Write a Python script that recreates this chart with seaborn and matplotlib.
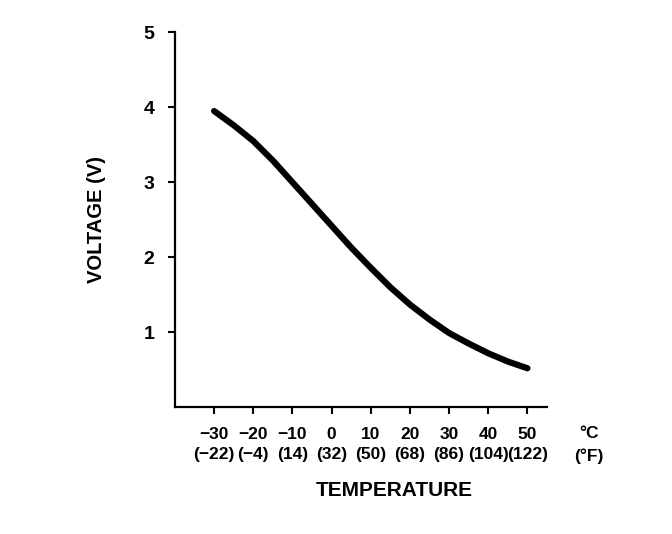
import matplotlib
matplotlib.use("Agg")
import matplotlib.pyplot as plt
import seaborn as sns
import pandas as pd

# values (every 5 degC)
temp_c = [-30, -25, -20, -15, -10, -5, 0, 5, 10, 15, 20, 25, 30, 35, 40, 45, 50]
voltage = [3.95, 3.76, 3.55, 3.29, 3.00, 2.71, 2.42, 2.13, 1.86, 1.60, 1.37,
           1.17, 0.99, 0.85, 0.72, 0.61, 0.52]

tick_c = [-30, -20, -10, 0, 10, 20, 30, 40, 50]
tick_labels = ["\u221230\n(\u221222)", "\u221220\n(\u22124)", "\u221210\n(14)", "0\n(32)",
               "10\n(50)", "20\n(68)", "30\n(86)", "40\n(104)", "50\n(122)"]
y_ticks = [1, 2, 3, 4, 5]

df = pd.DataFrame({"temp": temp_c, "volt": voltage})

sns.set_style("ticks")
plt.rcParams["font.family"] = ["Liberation Sans", "DejaVu Sans"]
plt.rcParams["font.weight"] = "bold"
plt.rcParams["text.color"] = "black"
plt.rcParams["axes.labelcolor"] = "black"

fig = plt.figure(figsize=(6.72, 5.34), dpi=100)
ax = fig.add_axes([0.2604, 0.2373, 0.5536, 0.7022])

sns.lineplot(data=df, x="temp", y="volt", ax=ax, color="black", linewidth=4.5,
             solid_capstyle="round", solid_joinstyle="round")

ax.set_xlim(-40, 55)
ax.set_ylim(0, 5)
ax.set_xticks(tick_c)
ax.set_xticklabels(tick_labels, fontsize=12.5, fontweight="bold", linespacing=1.4)
ax.set_yticks(y_ticks)
ax.set_yticklabels([str(v) for v in y_ticks], fontsize=14, fontweight="bold")
ax.tick_params(axis="both", direction="out", length=5, width=1.5, colors="black")
ax.tick_params(axis="y", pad=10)
ax.tick_params(axis="x", pad=9)

sns.despine(ax=ax)
for side in ["left", "bottom"]:
    ax.spines[side].set_linewidth(1.6)
    ax.spines[side].set_color("black")

ax.set_xlabel("")
ax.set_ylabel("VOLTAGE (V)", fontsize=14.5, fontweight="bold", labelpad=27)

fig.text(589 / 672, 1 - 434 / 534, "\u00b0C", fontsize=12.5, fontweight="bold",
         ha="center", va="center")
fig.text(589 / 672, 1 - 456 / 534, "(\u00b0F)", fontsize=12.5, fontweight="bold",
         ha="center", va="center")
fig.text(394 / 672, 1 - 491 / 534, "TEMPERATURE", fontsize=15, fontweight="bold",
         ha="center", va="center")

fig.savefig("out.png", dpi=100)
